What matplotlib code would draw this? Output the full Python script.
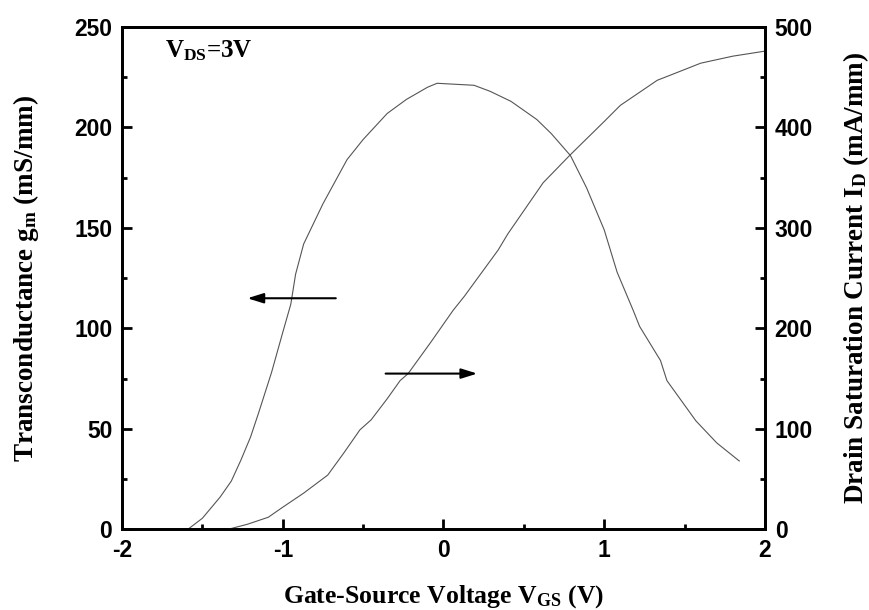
import matplotlib
matplotlib.use("Agg")
import matplotlib.pyplot as plt
from matplotlib.ticker import MultipleLocator

# transconductance curve (left axis)
vgs_gm = [-1.59, -1.50, -1.39, -1.32, -1.26, -1.20, -1.15, -1.07, -1.00, -0.95,
          -0.92, -0.87, -0.75, -0.60, -0.50, -0.35, -0.23, -0.10, -0.04, 0.19,
          0.29, 0.42, 0.58, 0.67, 0.79, 0.89, 1.00, 1.08, 1.18, 1.22,
          1.35, 1.39, 1.57, 1.70, 1.84]
gm = [0, 5.5, 16, 24, 34.5, 46, 58, 78, 98, 112,
      127, 142, 162, 184, 194, 207, 214, 220, 222, 221,
      218, 213, 204, 197, 186, 170, 149, 128, 109, 101,
      84, 74, 54, 43, 34]

# drain saturation current (right axis)
vgs_id = [-1.34, -1.22, -1.09, -1.00, -0.87, -0.72, -0.62, -0.52, -0.45, -0.35,
          -0.27, -0.22, -0.08, 0.06, 0.13, 0.34, 0.40, 0.62, 0.79, 1.00,
          1.10, 1.33, 1.41, 1.60, 1.80, 2.00]
id_sat = [0, 5, 12, 22, 36, 54, 76, 99, 109, 130,
          148, 155, 186, 218, 232, 278, 294, 345, 373, 406,
          422, 447, 452, 464, 471, 476]

plt.rcParams['axes.unicode_minus'] = False
plt.rcParams['mathtext.fontset'] = 'custom'
plt.rcParams['mathtext.rm'] = 'Liberation Serif:bold'
plt.rcParams['mathtext.it'] = 'Liberation Serif:italic:bold'
plt.rcParams['mathtext.bf'] = 'Liberation Serif:bold'

fig = plt.figure(figsize=(8.69, 6.10), dpi=100)
ax1 = fig.add_axes([0.1404, 0.1323, 0.7399, 0.8234])
ax2 = ax1.twinx()

ax1.plot(vgs_gm, gm, color='#555555', lw=0.8)
ax2.plot(vgs_id, id_sat, color='#555555', lw=0.8)

ax1.set_xlim(-2, 2)
ax1.set_ylim(0, 250)
ax2.set_ylim(0, 500)

ax1.xaxis.set_major_locator(MultipleLocator(1))
ax1.xaxis.set_minor_locator(MultipleLocator(0.5))
ax1.yaxis.set_major_locator(MultipleLocator(50))
ax1.yaxis.set_minor_locator(MultipleLocator(25))
ax2.yaxis.set_major_locator(MultipleLocator(100))
ax2.yaxis.set_minor_locator(MultipleLocator(50))

for ax in (ax1, ax2):
    for s in ax.spines.values():
        s.set_linewidth(2)
    ax.tick_params(which='major', direction='in', length=7, width=2, pad=7)
    ax.tick_params(which='minor', direction='in', length=3.8, width=2)
ax1.tick_params(which='both', top=False, right=False)
ax2.tick_params(which='both', left=False, right=True, top=False)

for lab in ax1.get_xticklabels() + ax1.get_yticklabels() + ax2.get_yticklabels():
    lab.set_fontfamily('Liberation Sans')
    lab.set_fontweight('bold')
    lab.set_fontsize(16.5)

ax1.set_xlabel(r'Gate-Source Voltage V$_\mathrm{GS}$ (V)', family='Liberation Serif',
               fontweight='bold', fontsize=18.5, labelpad=15)
ax1.set_ylabel(r'Transconductance g$_\mathrm{m}$ (mS/mm)', family='Liberation Serif',
               fontweight='bold', fontsize=19.5, labelpad=24)
ax2.set_ylabel(r'Drain Saturation Current I$_\mathrm{D}$ (mA/mm)', family='Liberation Serif',
               fontweight='bold', fontsize=19.5, labelpad=20)

ax1.text(-1.73, 238, r'V$_\mathrm{DS}$=3V', family='Liberation Serif',
         fontweight='bold', fontsize=18, va='center')

arrow = dict(arrowstyle='-|>,head_length=0.8,head_width=0.25', lw=1.5,
             color='black', mutation_scale=12, shrinkA=0, shrinkB=0)
ax1.annotate('', xy=(-1.22, 115), xytext=(-0.67, 115), arrowprops=arrow)
ax2.annotate('', xy=(0.21, 155), xytext=(-0.36, 155), arrowprops=arrow)

fig.savefig('out.png', dpi=100)
